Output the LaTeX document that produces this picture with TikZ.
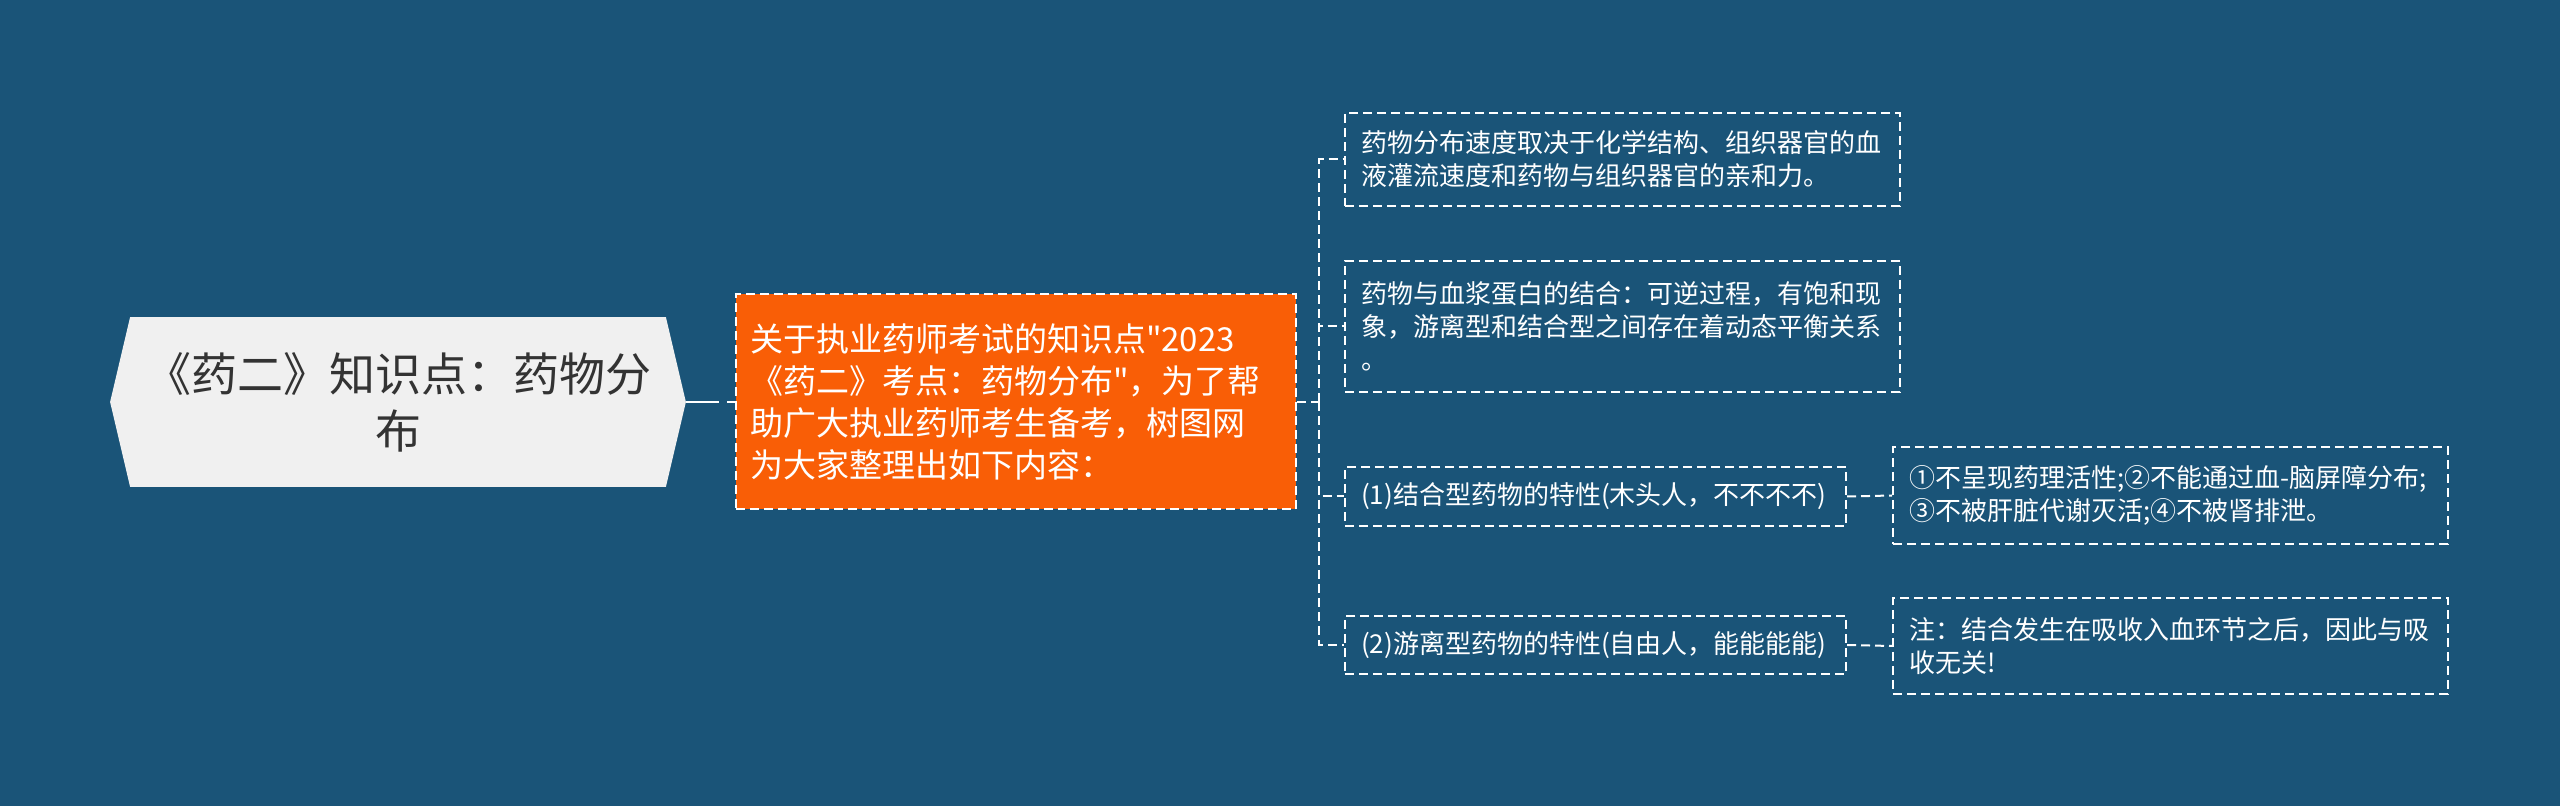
\documentclass[tikz,border=0pt]{standalone}
\usepackage{fontspec}
\setmainfont{Noto Sans CJK SC}[Ligatures=TeXOff]
\usetikzlibrary{backgrounds}
\definecolor{mapbg}{RGB}{26,84,120}
\definecolor{maporange}{RGB}{249,94,6}
\definecolor{rootgray}{RGB}{240,240,240}
\definecolor{roottext}{RGB}{51,51,51}
\begin{document}
\begin{tikzpicture}[x=0.5pt,y=-0.5pt,
  link/.style={white,line width=1pt,dash pattern=on 4.5pt off 2.5pt},
  leaf/.style={draw=white,line width=1pt,dash pattern=on 4.5pt off 2.5pt,text=white,font=\fontsize{13}{16.5}\selectfont,align=left,anchor=west,inner xsep=8pt,inner ysep=0pt}]
\useasboundingbox (0,0) rectangle (2560,806);

\node[minimum width=287.5pt,minimum height=84.5pt,align=center,text=roottext,font=\fontsize{23}{28.5}\selectfont] (root) at (398,402) {《药二》知识点：药物分\\布};

\node[fill=maporange,draw=white,line width=1pt,dash pattern=on 4.5pt off 2.5pt,text=white,font=\fontsize{16.5}{21}\selectfont,align=left,anchor=west,text width=266pt,inner xsep=7pt,minimum height=107.5pt] (intro) at (735,402) {关于执业药师考试的知识点"2023\\《药二》考点：药物分布"，为了帮\\助广大执业药师考生备考，树图网\\为大家整理出如下内容：};

\node[leaf,text width=261.5pt,minimum height=46.5pt] (d1) at (1344,159.5) {药物分布速度取决于化学结构、组织器官的血\\液灌流速度和药物与组织器官的亲和力。};
\node[leaf,text width=261.5pt,minimum height=65.5pt] (d2) at (1344,326.5) {药物与血浆蛋白的结合：可逆过程，有饱和现\\象，游离型和结合型之间存在着动态平衡关系\\。};
\node[leaf,text width=234.5pt,minimum height=29.5pt] (p1) at (1344,496.5) {(1)结合型药物的特性(木头人，不不不不)};
\node[leaf,text width=261.5pt,minimum height=48.5pt] (n1) at (1892,495.5) {①不呈现药理活性;②不能通过血-脑屏障分布;\\③不被肝脏代谢灭活;④不被肾排泄。};
\node[leaf,text width=234.5pt,minimum height=29pt] (p2) at (1344,645) {(2)游离型药物的特性(自由人，能能能能)};
\node[leaf,text width=261.5pt,minimum height=48pt] (n2) at (1892,646) {注：结合发生在吸收入血环节之后，因此与吸\\收无关!};

\begin{scope}[on background layer]
\fill[mapbg] (0,0) rectangle (2560,806);
\fill[rootgray] (root.west) -- ([xshift=10pt]root.north west) -- ([xshift=-10pt]root.north east) -- (root.east) -- ([xshift=-10pt]root.south east) -- ([xshift=10pt]root.south west) -- cycle;
\end{scope}

\coordinate (fork) at (1319,402);
\draw[link,dash pattern=on 16.5pt off 4pt] (root.east) -- (intro.west);
\draw[link] (intro.east) -- (fork);
\foreach \leafname in {d1,d2,p1,p2}
  \draw[link] (fork) |- (\leafname.west);
\draw[link] (p1.east) -- (n1.west);
\draw[link] (p2.east) -- (n2.west);

\end{tikzpicture}
\end{document}
